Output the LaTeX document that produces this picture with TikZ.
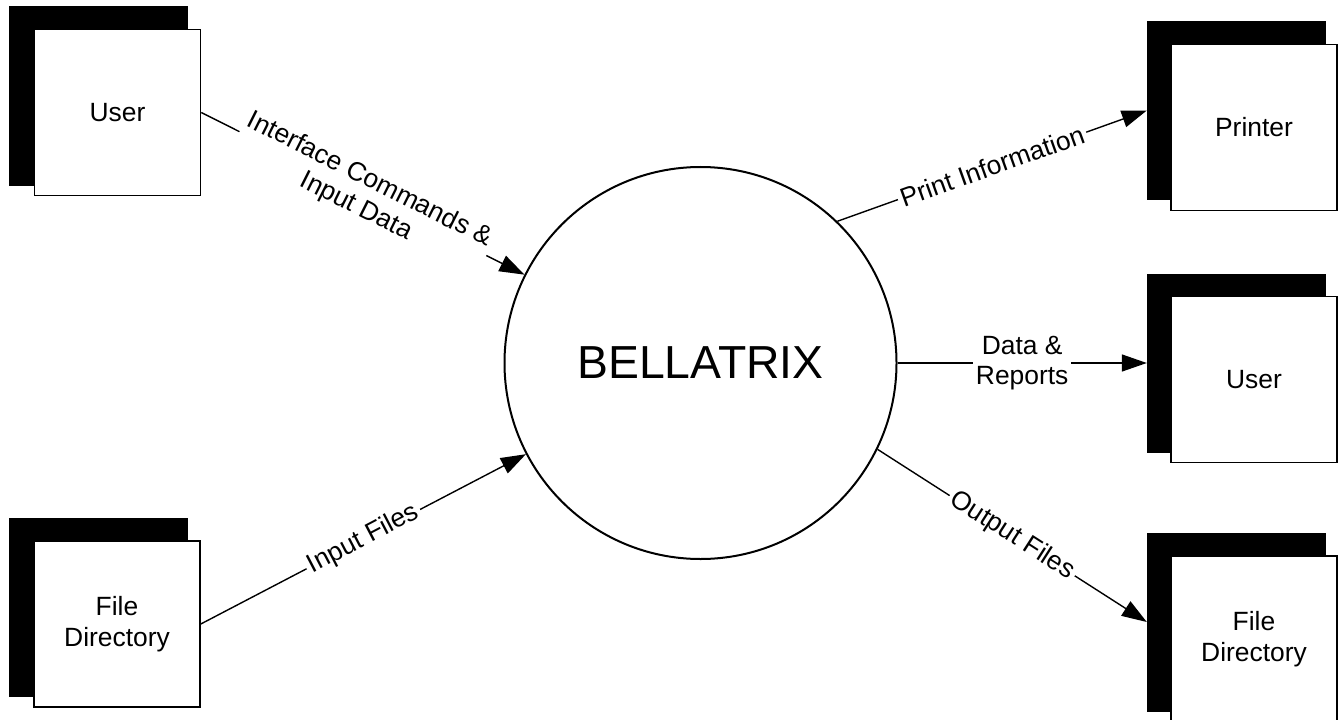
\documentclass[tikz,border=0pt]{standalone}
\usepackage{fontspec}
\setmainfont{Liberation Sans}
\usetikzlibrary{arrows.meta}

\begin{document}
\begin{tikzpicture}[x=1bp, y=-1bp,
		shadowStyle/.style={rectangle, fill=black, minimum size=179bp, inner sep=0pt},
		boxStyle/.style={rectangle, draw, line width=1.6bp, fill=white, minimum size=166bp, align=center, font=\fontsize{26.5}{31}\selectfont},
		procStyle/.style={circle, draw, line width=2bp, minimum size=392bp, font=\fontsize{46.5}{54}\selectfont},
		flowStyle/.style={-{Triangle[length=25bp, width=17bp]}, line width=1.4bp},
		flowLabel/.style={sloped, fill=white, inner sep=3bp, align=center, font=\fontsize{26.5}{30}\selectfont}]
			\useasboundingbox (0,0) rectangle (1338,719);

			% Process
			\node[procStyle] (bell) at (700.5,363) {BELLATRIX};

			% Sources
			\node[shadowStyle] (userShadow) at (98.5,96) {};
			\node[boxStyle] (user) at (117.5,112.5) {User};
			\node[shadowStyle] (fileShadow) at (98.5,607) {};
			\node[boxStyle] (file) at (117,624) {File\\Directory};

			% Sinks
			\node[shadowStyle] (printerShadow) at (1236.5,110.5) {};
			\node[boxStyle] (printer) at (1254,127.5) {Printer};
			\node[shadowStyle] (userOutShadow) at (1236.5,363) {};
			\node[boxStyle] (userOut) at (1254,379.5) {User};
			\node[shadowStyle] (fileOutShadow) at (1236.5,622) {};
			\node[boxStyle] (fileOut) at (1254,639) {File\\Directory};

			% Flows
			\draw[flowStyle] (user.east) -- node[flowLabel] {Interface Commands \&\\Input Data} (bell);
			\draw[flowStyle] (file.east) -- node[flowLabel] {Input Files} (bell);
			\draw[flowStyle] (bell.46) -- node[flowLabel] {Print Information} (printerShadow.west);
			\draw[flowStyle] (bell.east) -- node[flowLabel] {Data \&\\Reports} (userOutShadow.west);
			\draw[flowStyle] (bell.-26) -- node[flowLabel] {Output Files} (fileOutShadow.west);

		\end{tikzpicture}
\end{document}
